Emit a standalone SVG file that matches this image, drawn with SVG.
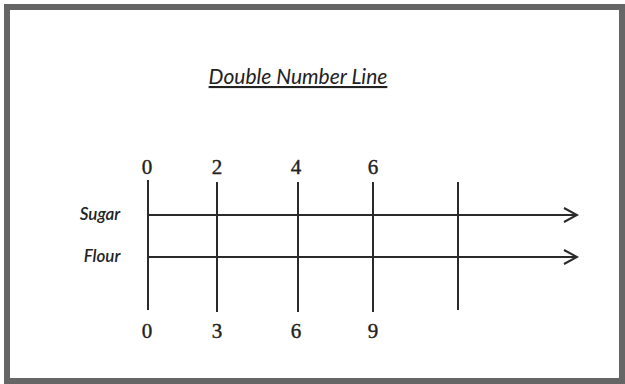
<svg xmlns="http://www.w3.org/2000/svg" width="625" height="384" viewBox="0 0 625 384">
<style>
.frame{fill:#fff;stroke:#666;stroke-width:6}
.ln{stroke:#2a2a2a;stroke-width:2;fill:none}
.num{font-family:"Liberation Serif","DejaVu Serif",serif;font-size:21px;fill:#222;stroke:#222;stroke-width:0.4;text-anchor:middle}
.lab{font-family:Lato,"Open Sans",sans-serif;font-style:italic;font-weight:600;font-size:17px;fill:#222;text-anchor:middle}
.title{font-family:Lato,"Open Sans",sans-serif;font-style:italic;font-size:21px;fill:#222;text-anchor:middle;text-decoration:underline}
</style>
<defs>
<marker id="chev" markerWidth="16" markerHeight="16" refX="14" refY="8" orient="auto" markerUnits="userSpaceOnUse">
<path d="M1,1 L14,8 L1,15" fill="none" stroke="#2a2a2a" stroke-width="2"/>
</marker>
</defs>
<rect class="frame" x="7" y="7" width="615" height="374"/>
<g id="title"><text class="title" x="298" y="84">Double Number Line</text></g>
<g id="sugar-label"><text class="lab" x="100" y="220">Sugar</text></g>
<g id="flour-label"><text class="lab" x="102" y="262">Flour</text></g>
<g id="connectors">
<line class="ln" x1="148" y1="215" x2="577" y2="215" marker-end="url(#chev)"/>
<line class="ln" x1="148" y1="257" x2="577" y2="257" marker-end="url(#chev)"/>
<line class="ln" x1="148" y1="180" x2="148" y2="310"/>
<line class="ln" x1="217" y1="182" x2="217" y2="312"/>
<line class="ln" x1="298" y1="182" x2="298" y2="312"/>
<line class="ln" x1="373" y1="182" x2="373" y2="312"/>
<line class="ln" x1="458" y1="182" x2="458" y2="310"/>
</g>
<g id="top-labels">
<text class="num" x="147" y="174">0</text>
<text class="num" x="217" y="174">2</text>
<text class="num" x="296" y="174">4</text>
<text class="num" x="373" y="174">6</text>
</g>
<g id="bottom-labels">
<text class="num" x="147" y="338">0</text>
<text class="num" x="217" y="338">3</text>
<text class="num" x="296" y="338">6</text>
<text class="num" x="373" y="338">9</text>
</g>
</svg>
